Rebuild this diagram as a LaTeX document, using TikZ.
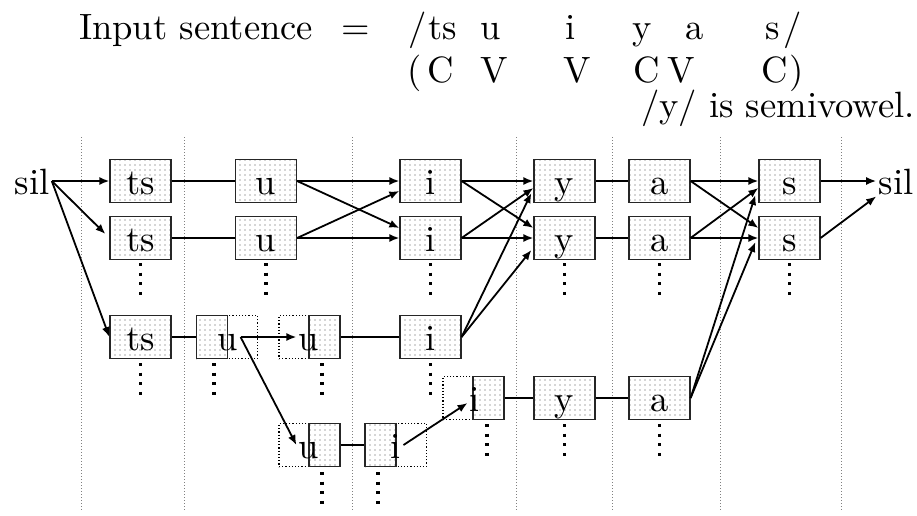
\documentclass[tikz,border=0pt]{standalone}
\usepackage{fontspec}
\setmainfont{lmroman10-regular.otf}
\usetikzlibrary{arrows.meta,patterns.meta}
\begin{document}
\begin{tikzpicture}[x=0.5pt,y=-0.5pt,
  every node/.style={font=\fontsize{18.3}{22}\selectfont},
  txt/.style={inner sep=1pt, text height=13pt, text depth=0pt},
  pbox/.style={draw=black!85, line width=0.6pt, pattern={Dots[distance=2.5pt,radius=0.3pt]}, pattern color=black!70,
    minimum width=30.5pt, minimum height=21.5pt, inner sep=0pt, text height=13pt, text depth=0pt},
  hbox/.style={pbox, minimum width=15.5pt},
  obox/.style={draw, densely dotted, line width=0.6pt, minimum width=30.5pt, minimum height=21.5pt, inner sep=0pt},
  link/.style={line width=0.9pt},
  arr/.style={line width=0.9pt, -{Latex[length=5pt,width=4pt]}},
  sepline/.style={gray, densely dotted, line width=0.5pt},
  ell/.style={line width=1.7pt, dash pattern=on 1.6pt off 3.2pt}
]
\useasboundingbox (0,0) rectangle (917,515);

% header
\node[anchor=base west] (hin) at (72,39) {Input sentence};
\node[anchor=base] (heq) at (356,39) {=};
\node[anchor=base] (h1a) at (418,39) {/};
\node[anchor=base] (h1b) at (443,39) {ts};
\node[anchor=base] (h1c) at (491,39) {u};
\node[anchor=base] (h1d) at (571,39) {i};
\node[anchor=base] (h1e) at (642,39) {y};
\node[anchor=base] (h1f) at (695,39) {a};
\node[anchor=base] (h1g) at (773,39) {s};
\node[anchor=base] (h1h) at (793,39) {/};
\node[anchor=base] (h2a) at (415,82) {(};
\node[anchor=base] (h2b) at (441,82) {C};
\node[anchor=base] (h2c) at (494,82) {V};
\node[anchor=base] (h2d) at (577,82) {V};
\node[anchor=base] (h2e) at (647,82) {C};
\node[anchor=base] (h2f) at (681,82) {V};
\node[anchor=base] (h2g) at (775,82) {C};
\node[anchor=base] (h2h) at (797,82) {)};
\node[anchor=base west] (hnote) at (634,117) {/y/ is semivowel.};

% separators
\foreach \x in {81,184,352,516,612,720,841}
  \draw[sepline] (\x,137) -- (\x,510);

% rows 1 and 2
\foreach \n/\t/\x in {ts/ts/140.5,u/u/266,i/i/430.5,y/y/564.5,a/a/659.5,s/s/789.5}{
  \node[pbox] (\n1) at (\x,181) {\t};
  \node[pbox] (\n2) at (\x,238) {\t};
  \draw[ell] (\x,263) -- (\x,296);
}
\node[txt] (silL) at (32,181) {sil};
\node[txt] (silR) at (896,181) {sil};

% row 3
\node[pbox] (ts3) at (140.5,337) {ts};
\node[obox] (u3aO) at (227,337) {};
\node[hbox] (u3aS) at (212,337) {};
\node[txt] (u3a) at (228,337) {u};
\node[obox] (u3bO) at (309.5,337) {};
\node[hbox] (u3bS) at (324.5,337) {};
\node[txt] (u3b) at (309,337) {u};
\node[pbox] (i3) at (430.5,337) {i};
\draw[ell] (140.5,363) -- (140.5,396);
\draw[ell] (214,363) -- (214,396);
\draw[ell] (322,363) -- (322,396);
\draw[ell] (430.5,363) -- (430.5,396);

% row 4
\node[obox] (i4O) at (473.5,398) {};
\node[hbox] (i4S) at (488.5,398) {};
\node[txt] (i4) at (475,398) {i};
\node[pbox] (y4) at (564.5,398) {y};
\node[pbox] (a4) at (659.5,398) {a};
\draw[ell] (487,424) -- (487,457);
\draw[ell] (564.5,424) -- (564.5,457);
\draw[ell] (659.5,424) -- (659.5,457);

% row 5
\node[obox] (u5O) at (309.5,445) {};
\node[hbox] (u5S) at (324.5,445) {};
\node[txt] (u5) at (309,445) {u};
\node[obox] (i5O) at (396,445) {};
\node[hbox] (i5S) at (380.5,445) {};
\node[txt] (i5) at (396,445) {i};
\draw[ell] (322,472) -- (322,505);
\draw[ell] (378,472) -- (378,505);

% plain links
\draw[link] (ts1.east) -- (u1.west);
\draw[link] (ts2.east) -- (u2.west);
\draw[link] (y1.east) -- (a1.west);
\draw[link] (y2.east) -- (a2.west);
\draw[link] (ts3.east) -- (u3aS.west);
\draw[link] (u3bS.east) -- (i3.west);
\draw[link] (u5S.east) -- (i5S.west);
\draw[link] (i4S.east) -- (y4.west);
\draw[link] (y4.east) -- (a4.west);

% arrows
\draw[arr] (silL.east) -- (ts1.west);
\draw[arr] (silL.east) -- ([xshift=-2pt,yshift=2pt]ts2.west);
\draw[arr] (silL.east) -- (ts3.west);
\draw[arr] (u1.east) -- (i1.west);
\draw[arr] (u1.east) -- ([yshift=5pt]i2.west);
\draw[arr] (u2.east) -- ([yshift=-5pt]i1.west);
\draw[arr] (u2.east) -- (i2.west);
\draw[arr] (i1.east) -- (y1.west);
\draw[arr] (i1.east) -- ([yshift=5pt]y2.west);
\draw[arr] (i2.east) -- ([yshift=-3.5pt]y1.west);
\draw[arr] (i2.east) -- (y2.west);
\draw[arr] (i3.east) -- ([xshift=-1pt,yshift=-6pt]y1.west);
\draw[arr] (i3.east) -- ([xshift=-1pt,yshift=-6pt]y2.west);
\draw[arr] (a1.east) -- (s1.west);
\draw[arr] (a1.east) -- ([yshift=5pt]s2.west);
\draw[arr] (a2.east) -- ([yshift=-3.5pt]s1.west);
\draw[arr] (a2.east) -- (s2.west);
\draw[arr] (a4.east) -- ([xshift=-1.5pt,yshift=-7pt]s1.west);
\draw[arr] (a4.east) -- ([xshift=-1.5pt,yshift=-2pt]s2.west);
\draw[arr] (s1.east) -- (silR.west);
\draw[arr] (s2.east) -- (silR.south west);
\draw[arr] (u3a.east) -- (u3b.west);
\draw[arr] (u3a.east) -- (u5.west);
\draw[arr] (i5.east) -- ([yshift=-2.5pt]i4.west);
\end{tikzpicture}
\end{document}
